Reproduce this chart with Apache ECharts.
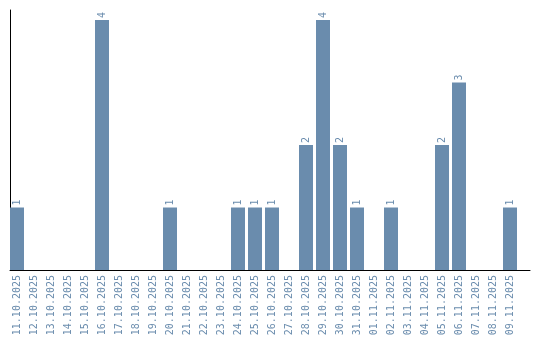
<!DOCTYPE html>
<html><head><meta charset="utf-8">
<script src="https://cdn.jsdelivr.net/npm/echarts@6/dist/echarts.min.js"></script>
<style>html,body{margin:0;padding:0;background:#fff}#c{width:540px;height:340px}</style>
</head><body><div id="c"></div>
<script>
const categories = ["11.10.2025","12.10.2025","13.10.2025","14.10.2025","15.10.2025","16.10.2025","17.10.2025","18.10.2025","19.10.2025","20.10.2025","21.10.2025","22.10.2025","23.10.2025","24.10.2025","25.10.2025","26.10.2025","27.10.2025","28.10.2025","29.10.2025","30.10.2025","31.10.2025","01.11.2025","02.11.2025","03.11.2025","04.11.2025","05.11.2025","06.11.2025","07.11.2025","08.11.2025","09.11.2025"];
const values = [1,0,0,0,0,4,0,0,0,1,0,0,0,1,1,1,0,2,4,2,1,0,1,0,0,2,3,0,0,1];
const yMax = 4.16;

const color = '#6a8cad';
const chart = echarts.init(document.getElementById('c'), null, {renderer:'canvas'});
chart.setOption({
  animation: false,
  grid: [
    {left: 8.5, width: 510, top: 10, bottom: 70, containLabel: false},
    {left: 10, right: 10, top: 10, bottom: 70, containLabel: false}
  ],
  xAxis: [
    {type: 'category', gridIndex: 0, data: categories,
     axisLine: {show: false}, axisTick: {show: false},
     axisLabel: {rotate: 90, interval: 0, color: color, fontFamily: 'DejaVu Sans Mono', fontSize: 10, margin: 5}},
    {type: 'value', gridIndex: 1, min: 0, max: 1,
     axisLine: {show: true, lineStyle: {color: '#000', width: 1}}, axisTick: {show: false},
     axisLabel: {show: false}, splitLine: {show: false}}
  ],
  yAxis: [
    {type: 'value', gridIndex: 0, min: 0, max: yMax,
     axisLine: {show: false}, axisTick: {show: false}, axisLabel: {show: false}, splitLine: {show: false}},
    {type: 'value', gridIndex: 1, min: 0, max: 1,
     axisLine: {show: true, lineStyle: {color: '#000', width: 1}}, axisTick: {show: false},
     axisLabel: {show: false}, splitLine: {show: false}}
  ],
  series: [{
    type: 'bar', xAxisIndex: 0, yAxisIndex: 0,
    data: values.map(v => v === 0 ? {value: 0, label: {show: false}} : v),
    barWidth: 14,
    itemStyle: {color: color},
    label: {show: true, position: 'top', rotate: 90, align: 'left', verticalAlign: 'middle', distance: 2,
            color: color, fontFamily: 'DejaVu Sans Mono', fontSize: 10}
  }]
});
</script></body></html>
